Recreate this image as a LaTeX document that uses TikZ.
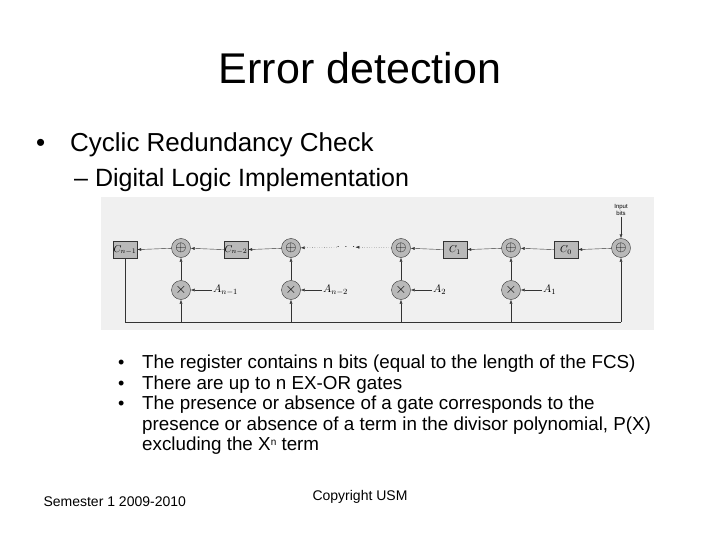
\documentclass[tikz,border=0pt]{standalone}
\usepackage{fontspec}
\setmainfont{Liberation Sans}
\usetikzlibrary{arrows.meta}
\begin{document}
\begin{tikzpicture}[x=1pt,y=-1pt,
 reg/.style={draw=black!80,fill=gray!55,minimum width=24pt,minimum height=17pt,inner sep=0pt,font=\fontsize{10}{10}\selectfont},
 op/.style={circle,draw=black!80,fill=gray!55,minimum size=19pt,inner sep=0pt,font=\fontsize{14}{14}\selectfont},
 ar/.style={-{Latex[length=4pt]},draw=black!80},
 ln/.style={draw=black!80},
 lab/.style={font=\fontsize{11}{11}\selectfont,inner sep=1pt},
 txt/.style={anchor=west,inner sep=0pt}]
\useasboundingbox (0,0) rectangle (720,540);
\fill[white] (0,0) rectangle (720,540);
\node (title) at (360,68) {\fontsize{43}{46}\selectfont Error detection};
\node[txt,font=\fontsize{26}{28}\selectfont] (b1) at (36,145) {\textbullet};
\node[txt,font=\fontsize{26}{30}\selectfont] (b1t) at (70,145) {Cyclic Redundancy Check};
\node[txt,font=\fontsize{25}{28}\selectfont] (b2) at (74,180) {-- Digital Logic Implementation};
\fill[gray!12] (101,197) rectangle (654,330);
\node[reg] (cn1) at (125,250) {$C_{n-1}$};
\node[op] (x1) at (181,248) {$\oplus$};
\node[reg] (cn2) at (236,250) {$C_{n-2}$};
\node[op] (x2) at (291,248) {$\oplus$};
\node[op] (x3) at (401,248) {$\oplus$};
\node[reg] (c1) at (455,250) {$C_1$};
\node[op] (x4) at (511,248) {$\oplus$};
\node[reg] (c0) at (566,250) {$C_0$};
\node[op] (x5) at (621,248) {$\oplus$};
\node[op] (m1) at (181,290) {$\times$};
\node[op] (m2) at (291,290) {$\times$};
\node[op] (m3) at (401,290) {$\times$};
\node[op] (m4) at (511,290) {$\times$};
\node[lab,anchor=west] (a1) at (212,290) {$A_{n-1}$};
\node[lab,anchor=west] (a2) at (322,290) {$A_{n-2}$};
\node[lab,anchor=west] (a3) at (432,290) {$A_2$};
\node[lab,anchor=west] (a4) at (542,290) {$A_1$};
\node[font=\fontsize{6}{6.5}\selectfont,align=center,inner sep=1pt] (in) at (621,210) {Input\\bits};
\node[inner sep=0pt] (dots) at (346,247) {$\cdot\;\cdot\;\cdot$};
\draw[ar] (in) -- (x5);
\draw[ar] (x5) -- (c0);
\draw[ar] (c0) -- (x4);
\draw[ar] (x4) -- (c1);
\draw[ar] (c1) -- (x3);
\draw[ar,dotted] (x3) -- (dots);
\draw[ar,dotted] (dots) -- (x2);
\draw[ar] (x2) -- (cn2);
\draw[ar] (cn2) -- (x1);
\draw[ar] (x1) -- (cn1);
\draw[ar] (m1) -- (x1); \draw[ar] (m2) -- (x2); \draw[ar] (m3) -- (x3); \draw[ar] (m4) -- (x4);
\draw[ar] (a1) -- (m1); \draw[ar] (a2) -- (m2); \draw[ar] (a3) -- (m3); \draw[ar] (a4) -- (m4);
\coordinate (bl) at (125,322); \coordinate (br) at (621,322);
\draw[ln] (cn1.south) -- (bl) -- (br);
\draw[ar] (br) -- (x5);
\draw[ar] (181,322) -- (m1); \draw[ar] (291,322) -- (m2); \draw[ar] (401,322) -- (m3); \draw[ar] (511,322) -- (m4);
\node[anchor=north west,align=left,font=\fontsize{18.8}{20.5}\selectfont,inner sep=0pt] (list) at (118,355) {%
\makebox[24pt][l]{\fontsize{18}{18}\selectfont\textbullet}The register contains n bits (equal to the length of the FCS)\\
\makebox[24pt][l]{\fontsize{18}{18}\selectfont\textbullet}There are up to n EX-OR gates\\
\makebox[24pt][l]{\fontsize{18}{18}\selectfont\textbullet}The presence or absence of a gate corresponds to the\\
\hspace{24pt}presence or absence of a term in the divisor polynomial, P(X)\\
\hspace{24pt}excluding the X\raisebox{5pt}{\fontsize{10}{10}\selectfont n} term};
\node[anchor=west,font=\fontsize{14}{16}\selectfont] (sem) at (40,502) {Semester 1 2009-2010};
\node[font=\fontsize{14}{16}\selectfont] (copy) at (360,497) {Copyright USM};
\end{tikzpicture}
\end{document}
